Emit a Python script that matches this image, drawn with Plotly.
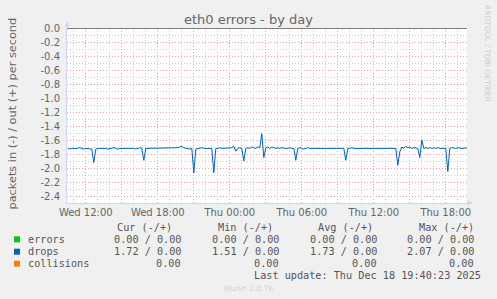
import pandas as pd
import plotly.graph_objects as go

# ---- data ----
start_time = "2025-12-17 10:30"
step = "10min"
drops_in = [
    -1.72, -1.73, -1.72, -1.72, -1.73, -1.72, -1.71, -1.72, -1.73, -1.72,
    -1.72, -1.72, -1.73, -1.92, -1.73, -1.72, -1.72, -1.71, -1.72, -1.72,
    -1.73, -1.72, -1.72, -1.71, -1.72, -1.73, -1.72, -1.72, -1.71, -1.72,
    -1.72, -1.71, -1.72, -1.72, -1.73, -1.72, -1.71, -1.72, -1.89, -1.72,
    -1.72, -1.71, -1.72, -1.72, -1.71, -1.72, -1.72, -1.71, -1.72, -1.71,
    -1.71, -1.72, -1.71, -1.71, -1.72, -1.71, -1.70, -1.69, -1.71, -1.72,
    -1.72, -1.73, -1.72, -2.07, -1.73, -1.72, -1.72, -1.71, -1.72, -1.72,
    -1.72, -1.71, -1.72, -2.07, -1.72, -1.72, -1.71, -1.72, -1.72, -1.71,
    -1.72, -1.72, -1.71, -1.69, -1.76, -1.72, -1.71, -1.72, -1.90, -1.72,
    -1.71, -1.72, -1.70, -1.71, -1.72, -1.70, -1.71, -1.51, -1.85, -1.71,
    -1.70, -1.72, -1.70, -1.71, -1.72, -1.71, -1.72, -1.71, -1.72, -1.72,
    -1.72, -1.71, -1.72, -1.72, -1.89, -1.72, -1.71, -1.72, -1.73, -1.72,
    -1.71, -1.72, -1.72, -1.71, -1.72, -1.72, -1.71, -1.72, -1.72, -1.71,
    -1.72, -1.72, -1.71, -1.72, -1.72, -1.71, -1.72, -1.72, -1.72, -1.89,
    -1.72, -1.72, -1.71, -1.72, -1.72, -1.72, -1.71, -1.72, -1.72, -1.72,
    -1.72, -1.71, -1.72, -1.72, -1.72, -1.71, -1.72, -1.72, -1.72, -1.72,
    -1.72, -1.71, -1.72, -1.72, -1.72, -1.96, -1.77, -1.70, -1.72, -1.69,
    -1.71, -1.70, -1.72, -1.71, -1.72, -1.72, -1.85, -1.60, -1.72, -1.71,
    -1.72, -1.71, -1.72, -1.71, -1.72, -1.71, -1.72, -1.72, -1.71, -1.72,
    -2.05, -1.72, -1.71, -1.72, -1.72, -1.71, -1.72, -1.72, -1.72, -1.71,
    -1.72,
]
times = pd.date_range(start_time, periods=len(drops_in), freq=step)

x_range = ["2025-12-17 10:26", "2025-12-18 19:46"]
x_tickvals = ["2025-12-17 12:00", "2025-12-17 15:00", "2025-12-17 18:00",
              "2025-12-17 21:00", "2025-12-18 00:00", "2025-12-18 03:00",
              "2025-12-18 06:00", "2025-12-18 09:00", "2025-12-18 12:00",
              "2025-12-18 15:00", "2025-12-18 18:00"]
x_ticktext = ["Wed 12:00", "", "Wed 18:00", "", "Thu 00:00", "",
              "Thu 06:00", "", "Thu 12:00", "", "Thu 18:00"]
y_tickvals = [0.0, -0.2, -0.4, -0.6, -0.8, -1.0, -1.2, -1.4, -1.6, -1.8,
              -2.0, -2.2, -2.4]
y_ticktext = ["0.0", "-0.2", "-0.4", "-0.6", "-0.8", "-1.0", "-1.2", "-1.4",
              "-1.6", "-1.8", "-2.0", "-2.2", "-2.4"]

legend_names = ["errors", "drops", "collisions"]
legend_colors = ["#00CC00", "#0066B3", "#FF8000"]
cur_vals = ["0.00 / 0.00", "1.72 / 0.00", "0.00"]
min_vals = ["0.00 / 0.00", "1.51 / 0.00", "0.00"]
avg_vals = ["0.00 / 0.00", "1.73 / 0.00", "0.00"]
max_vals = ["0.00 / 0.00", "2.07 / 0.00", "0.00"]
headers = ["Cur (-/+)", "Min (-/+)", "Avg (-/+)", "Max (-/+)"]
last_update = "Last update: Thu Dec 18 19:40:23 2025"

# ---- layout helpers (pixel -> paper) ----
W, H = 497, 299
L, R, T, B = 67, 467, 28, 203


def px(x):
    return (x - L) / (R - L)


def py(y):
    return (B - y) / (B - T)


FONT = "DejaVu Sans"
MONO = "DejaVu Sans Mono"
TXT = "#555555"
AXIS = "#CFD6F8"

fig = go.Figure()
fig.add_trace(go.Scatter(x=times, y=drops_in, mode="lines",
                         line=dict(color="#0066B3", width=1),
                         hoverinfo="skip", showlegend=False))

ann = []
ann.append(dict(text="eth0 errors - by day", x=px(248), y=py(19.5),
                xref="paper", yref="paper", showarrow=False,
                font=dict(family=FONT, size=13, color="#666666"),
                xanchor="center", yanchor="middle"))
ann.append(dict(text="packets in (-) / out (+) per second", x=px(12),
                y=py(113.5), xref="paper", yref="paper", showarrow=False,
                textangle=-90, font=dict(family=FONT, size=11.3, color="#666666"),
                xanchor="center", yanchor="middle"))
ann.append(dict(text="RRDTOOL / TOBI OETIKER", x=px(487.5), y=py(53.5),
                xref="paper", yref="paper", showarrow=False, textangle=90,
                font=dict(family=FONT, size=7.5, color="#CFCFCF"),
                xanchor="center", yanchor="middle"))
ann.append(dict(text="Munin 2.0.76", x=px(248), y=py(288.3),
                xref="paper", yref="paper", showarrow=False,
                font=dict(family=FONT, size=7.5, color="#D2D2D2"),
                xanchor="center", yanchor="middle"))

header_right = [174, 274.7, 375.3, 476]
col_right = [183.3, 281.3, 378.7, 476.3]
for h, xr in zip(headers, header_right):
    ann.append(dict(text=h.replace(" ", "&nbsp;"), x=px(xr), y=py(227.3),
                    xref="paper", yref="paper", showarrow=False,
                    font=dict(family=MONO, size=10.2, color=TXT),
                    xanchor="right", yanchor="middle"))
row_y = [239.3, 251.7, 263.7]
shapes = []
for i, (name, col) in enumerate(zip(legend_names, legend_colors)):
    yc = row_y[i]
    shapes.append(dict(type="rect", xref="paper", yref="paper",
                       x0=px(14), x1=px(20), y0=py(yc - 3), y1=py(yc + 3),
                       fillcolor=col, line=dict(width=0)))
    ann.append(dict(text=name, x=px(26), y=py(yc), xref="paper", yref="paper",
                    showarrow=False, font=dict(family=MONO, size=10.2, color=TXT),
                    xanchor="left", yanchor="middle"))
    for vals, xr in zip([cur_vals, min_vals, avg_vals, max_vals], col_right):
        ann.append(dict(text=vals[i].replace(" ", "&nbsp;"), x=px(xr), y=py(yc),
                        xref="paper", yref="paper", showarrow=False,
                        font=dict(family=MONO, size=10.2, color=TXT),
                        xanchor="right", yanchor="middle"))
ann.append(dict(text=last_update.replace(" ", "&nbsp;"), x=px(482.7), y=py(275.3),
                xref="paper", yref="paper", showarrow=False,
                font=dict(family=MONO, size=10.2, color=TXT),
                xanchor="right", yanchor="middle"))

# zero line
shapes.append(dict(type="line", xref="paper", yref="y", x0=0, x1=1, y0=0, y1=0,
                   line=dict(color="#000000", width=1.2)))
# axis arrows
shapes.append(dict(type="path", xref="paper", yref="paper",
                   path=f"M {px(64.5)} {py(27)} L {px(69.5)} {py(27)} L {px(67)} {py(21.5)} Z",
                   fillcolor=AXIS, line=dict(width=0)))
shapes.append(dict(type="path", xref="paper", yref="paper",
                   path=f"M {px(467)} {py(200.5)} L {px(467)} {py(205.5)} L {px(473.5)} {py(203)} Z",
                   fillcolor=AXIS, line=dict(width=0)))

MINOR_GRID = "#CFCFCF"
MAJOR_GRID = "#EBA3A3"

fig.update_layout(
    width=W, height=H,
    margin=dict(l=L, r=W - R, t=T, b=H - B),
    paper_bgcolor="#F0F0F0", plot_bgcolor="#FFFFFF",
    showlegend=False,
    annotations=ann, shapes=shapes,
    xaxis=dict(range=x_range, type="date", tickmode="array",
               tickvals=x_tickvals, ticktext=x_ticktext,
               showgrid=True, gridcolor=MAJOR_GRID, griddash="1px,2px", gridwidth=1,
               minor=dict(dtick=3600000, tick0="2025-12-17 00:00", showgrid=True,
                          gridcolor=MINOR_GRID, griddash="1px,2px", gridwidth=1),
               showline=True, linecolor=AXIS, linewidth=1, zeroline=False,
               ticks="", tickfont=dict(family=FONT, size=10, color="#666666"),
               fixedrange=True),
    yaxis=dict(range=[-2.5, 0], tickmode="array", tickvals=y_tickvals,
               ticktext=y_ticktext,
               showgrid=True, gridcolor=MAJOR_GRID, griddash="1px,2px", gridwidth=1,
               minor=dict(dtick=0.1, tick0=0, showgrid=True,
                          gridcolor=MINOR_GRID, griddash="1px,2px", gridwidth=1),
               showline=True, linecolor=AXIS, linewidth=1, zeroline=False,
               ticks="", ticklabelstandoff=4,
               tickfont=dict(family=FONT, size=10, color="#666666"),
               fixedrange=True),
)

fig.write_html("out.html", config={"displayModeBar": False})
